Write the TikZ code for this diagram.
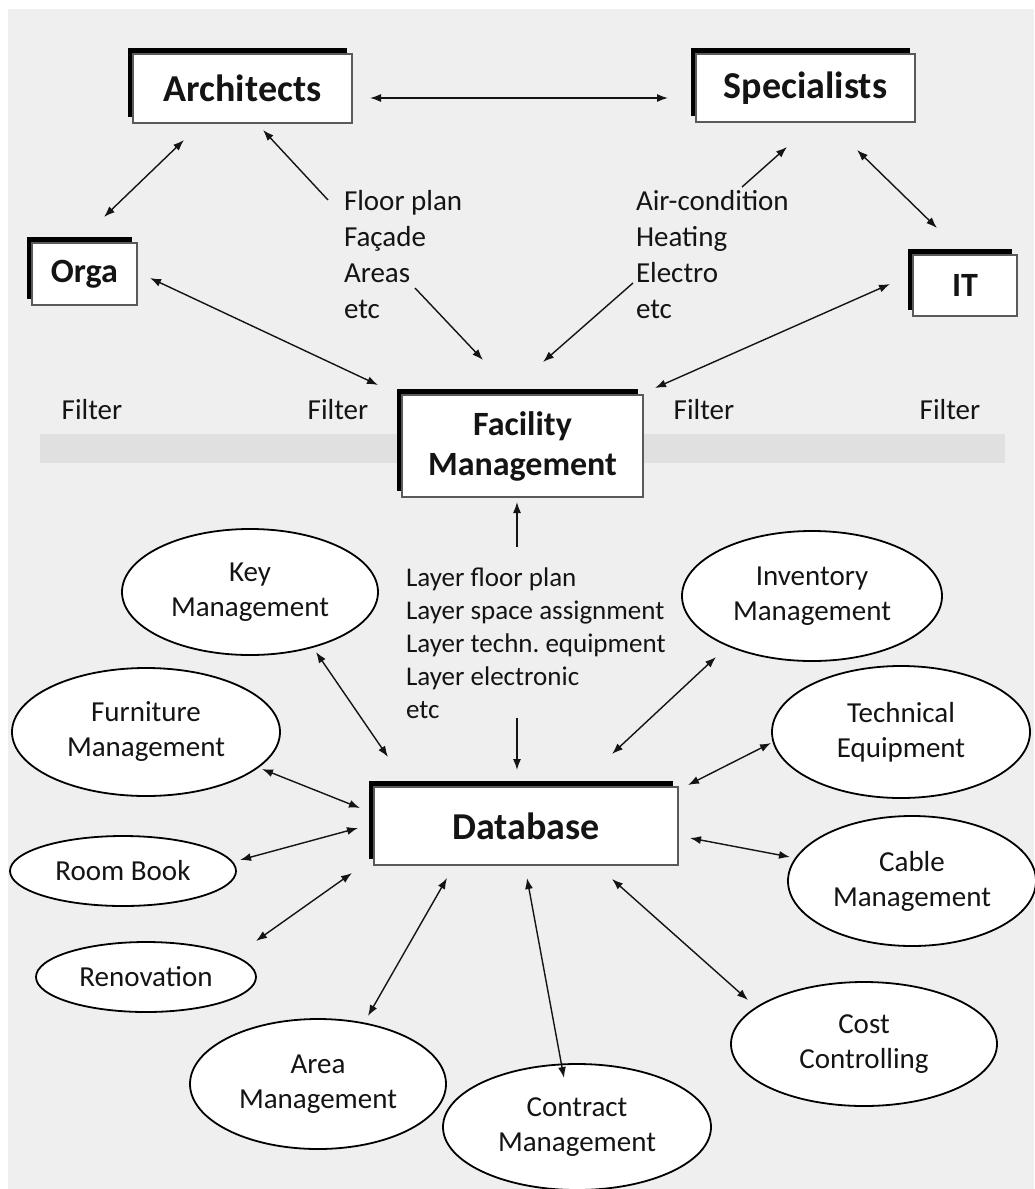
\documentclass[tikz,border=0pt]{standalone}
\usepackage{fontspec}
\setmainfont{Carlito}
\usetikzlibrary{shapes.geometric,shadows,arrows.meta}
\definecolor{bg}{HTML}{EFEFEF}
\definecolor{band}{HTML}{E0E0E0}
\definecolor{ink}{HTML}{141414}
\definecolor{boxline}{HTML}{5A5A5A}
\newcommand\fBig{\fontsize{38}{46}\selectfont\bfseries}
\newcommand\fMid{\fontsize{34}{40}\selectfont\bfseries}
\newcommand\fList{\fontsize{29}{36}\selectfont}
\newcommand\fLayer{\fontsize{27}{33}\selectfont}
\newcommand\fEll{\fontsize{29}{35}\selectfont}
\frenchspacing
\begin{document}
\begin{tikzpicture}[x=1pt,y=-1pt,
  every node/.style={text=ink},
  box/.style={rectangle, draw=boxline, line width=1.4pt, fill=white, inner sep=0pt, outer sep=0pt, align=center,
    general shadow={fill=black, shadow xshift=-5pt, shadow yshift=6pt}},
  ell/.style={ellipse, draw=black, line width=1.8pt, fill=white, inner sep=0pt, outer sep=0pt, align=center, font=\fEll},
  lst/.style={anchor=north west, align=left, inner sep=0pt, outer sep=0pt},
  arr/.style={draw=ink, line width=1.4pt, -{Latex[length=11pt,width=8pt]}},
  darr/.style={draw=ink, line width=1.4pt, {Latex[length=11pt,width=8pt]}-{Latex[length=11pt,width=8pt]}},
  lbl/.style={font=\fList, inner sep=0pt}]
\useasboundingbox (0,0) rectangle (1034,1189);
\fill[white] (0,0) rectangle (1034,1189);
\fill[bg] (8,9) rectangle (1034,1189);
\fill[band] (40,434) rectangle (1005,463);

% filter labels
\node[lbl] (f1) at (92,410) {Filter};
\node[lbl] (f2) at (338,410) {Filter};
\node[lbl] (f3) at (704,410) {Filter};
\node[lbl] (f4) at (950,410) {Filter};

% boxes
\node[box, minimum width=219pt, minimum height=69pt, font=\fBig] (arch) at (242.5,88.5) {Architects};
\node[box, minimum width=219pt, minimum height=68pt, font=\fBig] (spec) at (805.5,88) {Specialists};
\node[box, minimum width=105pt, minimum height=62pt, font=\fMid] (orga) at (84.5,274) {Orga};
\node[box, minimum width=104pt, minimum height=61pt, font=\fMid] (it) at (965,285.5) {IT};
\node[box, minimum width=241pt, minimum height=102pt, font=\fMid] (fm) at (522.5,446) {Facility\\Management};
\node[box, minimum width=304pt, minimum height=78pt, font=\fBig] (db) at (526,826) {Database};

% text lists
\node[lst, font=\fList] (alist) at (344,190) {Floor plan\\Façade\\Areas\\etc};
\node[lst, font=\fList] (slist) at (636,190) {Air-condition\\Heating\\Electro\\etc};
\node[lst, font=\fLayer] (layers) at (406,568) {Layer floor plan\\Layer space assignment\\Layer techn. equipment\\Layer electronic\\etc};

% ellipses
\node[ell, minimum width=256pt, minimum height=126pt] (key) at (250,592) {Key\\Management};
\node[ell, minimum width=260pt, minimum height=130pt] (inv) at (812,596) {Inventory\\Management};
\node[ell, minimum width=268pt, minimum height=128pt] (furn) at (146,732) {Furniture\\Management};
\node[ell, minimum width=258pt, minimum height=132pt] (tech) at (901,732) {Technical\\Equipment};
\node[ell, minimum width=226pt, minimum height=70pt] (room) at (123,871) {Room Book};
\node[ell, minimum width=248pt, minimum height=130pt] (cable) at (912,881) {Cable\\Management};
\node[ell, minimum width=220pt, minimum height=70pt] (reno) at (146,977) {Renovation};
\node[ell, minimum width=266pt, minimum height=124pt] (cost) at (864,1044) {Cost\\Controlling};
\node[ell, minimum width=256pt, minimum height=130pt] (area) at (318,1084) {Area\\Management};
\node[ell, minimum width=268pt, minimum height=126pt] (contract) at (577,1127) {Contract\\Management};

% connectors, upper part
\draw[darr] ([shift={(127.5,9.5)}]arch.center) -- ([shift={(-137.5,10)}]spec.center);
\draw[darr] ([shift={(19.5,-57)}]orga.center) -- ([shift={(-58.5,51.5)}]arch.center);
\draw[arr] ([shift={(-16,10)}]alist.north west) -- ([shift={(20.5,41.5)}]arch.center);
\draw[arr] ([shift={(71,98)}]alist.north west) -- ([shift={(-39.5,-86)}]fm.center);
\draw[darr] ([shift={(65.5,4)}]orga.center) -- ([shift={(-144.5,-61)}]fm.center);
\draw[arr] ([shift={(106,-3)}]slist.north west) -- ([shift={(-18.5,59)}]spec.center);
\draw[arr] ([shift={(-3,93)}]slist.north west) -- ([shift={(20.5,-84)}]fm.center);
\draw[darr] ([shift={(51.5,62)}]spec.center) -- ([shift={(-28,-57.5)}]it.center);
\draw[darr] ([shift={(-75,-1.5)}]it.center) -- ([shift={(132.5,-58)}]fm.center);
\draw[arr] ([shift={(111,-21)}]layers.north west) -- ([shift={(-5.5,56)}]fm.center);
\draw[arr] ([shift={(111,150)}]layers.north west) -- ([shift={(-9,-56)}]db.center);

% connectors, database
\draw[darr] ([shift={(66,60)}]key.center) -- ([shift={(-138,-69)}]db.center);
\draw[darr] ([shift={(-96,61)}]inv.center) -- ([shift={(86,-72)}]db.center);
\draw[darr] ([shift={(116,37)}]furn.center) -- ([shift={(-166,-18)}]db.center);
\draw[darr] ([shift={(-130,11)}]tech.center) -- ([shift={(162,-41)}]db.center);
\draw[darr] ([shift={(117,-11)}]room.center) -- ([shift={(-168,2)}]db.center);
\draw[darr] ([shift={(-122,-24)}]cable.center) -- ([shift={(164,12)}]db.center);
\draw[darr] ([shift={(110,-36)}]reno.center) -- ([shift={(-174,47)}]db.center);
\draw[darr] ([shift={(50,-68)}]area.center) -- ([shift={(-79,52)}]db.center);
\draw[darr] ([shift={(-13,-49)}]contract.center) -- ([shift={(1,52)}]db.center);
\draw[darr] ([shift={(-116,-44)}]cost.center) -- ([shift={(86,53)}]db.center);
\end{tikzpicture}
\end{document}
